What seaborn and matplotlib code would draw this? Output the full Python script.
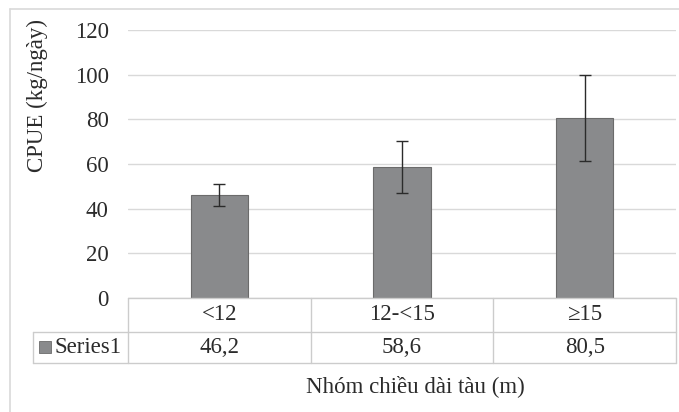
import matplotlib
matplotlib.use('Agg')
import matplotlib.pyplot as plt
from matplotlib.lines import Line2D
from matplotlib.patches import Rectangle
import pandas as pd
import seaborn as sns

# chart data
categories = ['<12', '12-<15', '≥15']
cpue = [46.2, 58.6, 80.5]
cpue_err = [5.0, 11.6, 19.3]
value_labels = ['46,2', '58,6', '80,5']
series_name = 'Series1'
y_ticks = [0, 20, 40, 60, 80, 100, 120]

W, H = 679, 412
BAR = '#898a8c'
EDGE = '#6b6b6b'
TXT = '#2b2b2b'
GRID = '#d9d9d9'
TBL = '#cccccc'
FS = 16.5

sns.set_style('white')
plt.rcParams['font.family'] = ['Liberation Serif', 'DejaVu Serif']


def fx(px):
    return px / W


def fy(py):
    return 1 - py / H


fig = plt.figure(figsize=(W / 100, H / 100), dpi=100)
ax = fig.add_axes([fx(128), fy(298), fx(676) - fx(128), fy(30) - fy(298)])

df = pd.DataFrame({'group': categories, 'cpue': cpue})
sns.barplot(data=df, x='group', y='cpue', color=BAR, edgecolor=EDGE,
            linewidth=0.8, width=0.313, saturation=1, ax=ax)
ax.errorbar(range(len(categories)), cpue, yerr=cpue_err, fmt='none',
            ecolor=TXT, elinewidth=1, capsize=4, capthick=1)

ax.set_xlim(-0.5, len(categories) - 0.5)
ax.set_ylim(0, 120)
ax.set_yticks(y_ticks)
ax.yaxis.grid(True, color=GRID, linewidth=1)
ax.set_axisbelow(True)
for s in ax.spines.values():
    s.set_visible(False)
ax.tick_params(axis='y', length=0, pad=14, labelsize=FS, labelcolor=TXT)
ax.set_xticks([])
ax.set_xlabel('')
ax.set_ylabel('')

# data table under the axis
tr = ax.get_xaxis_transform()
row1 = (298 - 332) / 268
row2 = (298 - 363) / 268
left_cell = (33 - 128) / 548
n = len(categories)
kw = dict(color=TBL, linewidth=1, clip_on=False)
ax.plot([-0.5, n - 0.5], [0, 0], transform=tr, **kw)
for yy in (row1, row2):
    ax.plot([left_cell, 1], [yy, yy], transform=ax.transAxes, **kw)
ax.plot([left_cell, left_cell], [row1, row2], transform=ax.transAxes, **kw)
for b in range(n + 1):
    ax.plot([b - 0.5, b - 0.5], [0, row2], transform=tr, **kw)

for i, (c, v) in enumerate(zip(categories, value_labels)):
    ax.text(i, row1 / 2, c, transform=tr, ha='center', va='center',
            fontsize=FS, color=TXT)
    ax.text(i, (row1 + row2) / 2, v, transform=tr, ha='center', va='center',
            fontsize=FS, color=TXT)

fig.patches.append(Rectangle((fx(39), fy(353)), fx(12), fy(341) - fy(353),
                             transform=fig.transFigure, facecolor=BAR,
                             edgecolor=EDGE, linewidth=0.6))
fig.text(fx(55), fy(347.5), series_name, ha='left', va='center',
         fontsize=FS, color=TXT)

fig.text(fx(415), fy(386), 'Nhóm chiều dài tàu (m)', ha='center',
         va='center', fontsize=FS, color=TXT)
fig.text(fx(37), fy(96), 'CPUE (kg/ngày)', ha='center', va='center',
         rotation=90, fontsize=FS, color=TXT)

# outer chart border (left and top edges visible)
fig.lines.append(Line2D([fx(10), fx(10)], [fy(9), 0], transform=fig.transFigure,
                        color=GRID, linewidth=1.2))
fig.lines.append(Line2D([fx(10), 1], [fy(9), fy(9)], transform=fig.transFigure,
                        color=GRID, linewidth=1.2))

fig.savefig('out.png', dpi=100, facecolor='white')
